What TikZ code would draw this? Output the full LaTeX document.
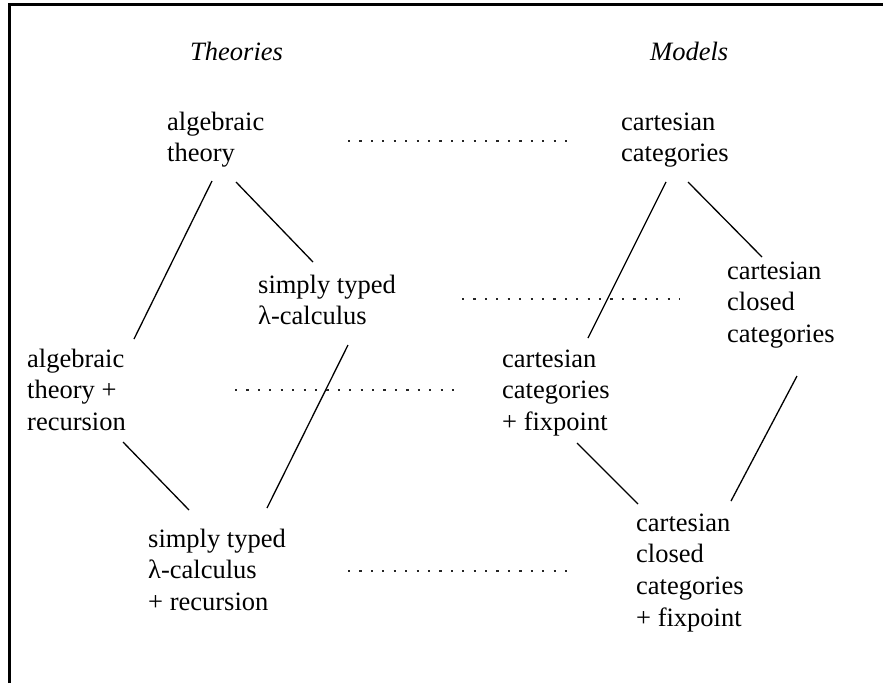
\documentclass[tikz,border=0pt]{standalone}
\usepackage{fontspec}
\setmainfont{Liberation Serif}
\newcommand\mlines[1]{\begin{tabular}[t]{@{}l@{}}#1\end{tabular}}
\begin{document}
\begin{tikzpicture}[x=1pt,y=-1pt,
  lbl/.style={anchor=base west, inner sep=0pt, font=\fontsize{26.5}{31.7}\selectfont},
  conn/.style={line width=1.3pt},
  corr/.style={line width=2.2pt, dash pattern=on 2.2pt off 9.22pt, draw=black!85}]
\useasboundingbox (0,0) rectangle (883,683);
\draw[line width=2.7pt] (9.5,683) -- (9.5,4.5) -- (883,4.5);

% headings
\node[lbl] (theo) at (190,60) {\itshape Theories};
\node[lbl] (mod) at (650,60) {\itshape Models};

% theories
\node[lbl] (alg) at (167,130) {\mlines{algebraic\\theory}};
\node[lbl] (stl) at (258,293) {\mlines{simply typed\\λ-calculus}};
\node[lbl] (algr) at (27,367) {\mlines{algebraic\\theory +\\recursion}};
\node[lbl] (stlr) at (148,547) {\mlines{simply typed\\λ-calculus\\+ recursion}};

% models
\node[lbl] (cc) at (621,130) {\mlines{cartesian\\categories}};
\node[lbl] (ccc) at (727,279) {\mlines{cartesian\\closed\\categories}};
\node[lbl] (ccf) at (502,367) {\mlines{cartesian\\categories\\+ fixpoint}};
\node[lbl] (cccf) at (636,531) {\mlines{cartesian\\closed\\categories\\+ fixpoint}};

% connector end points
\coordinate (alg-sw) at (212,181);   \coordinate (algr-n) at (134,339);
\coordinate (alg-se) at (236,182);   \coordinate (stl-nw) at (313,262);
\coordinate (stl-s) at (348,345);    \coordinate (stlr-ne) at (267,508);
\coordinate (algr-s) at (123,442);   \coordinate (stlr-nw) at (189,510);
\coordinate (cc-sw) at (666,182);    \coordinate (ccf-n) at (588,338);
\coordinate (cc-se) at (688,182);    \coordinate (ccc-nw) at (762,257);
\coordinate (ccc-s) at (797,376);    \coordinate (cccf-ne) at (731,501);
\coordinate (ccf-s) at (577,443);    \coordinate (cccf-nw) at (638,504);

\draw[conn] (alg-sw) -- (algr-n);
\draw[conn] (alg-se) -- (stl-nw);
\draw[conn] (stl-s) -- (stlr-ne);
\draw[conn] (algr-s) -- (stlr-nw);
\draw[conn] (cc-sw) -- (ccf-n);
\draw[conn] (cc-se) -- (ccc-nw);
\draw[conn] (ccc-s) -- (cccf-ne);
\draw[conn] (ccf-s) -- (cccf-nw);

% correspondences
\coordinate (d1a) at (348,141); \coordinate (d1b) at (567,141);
\coordinate (d2a) at (462,299); \coordinate (d2b) at (680,299);
\coordinate (d3a) at (235,390); \coordinate (d3b) at (454,390);
\coordinate (d4a) at (348,571); \coordinate (d4b) at (567,571);
\draw[corr] (d1a) -- (d1b);
\draw[corr] (d2a) -- (d2b);
\draw[corr] (d3a) -- (d3b);
\draw[corr] (d4a) -- (d4b);
\end{tikzpicture}
\end{document}
